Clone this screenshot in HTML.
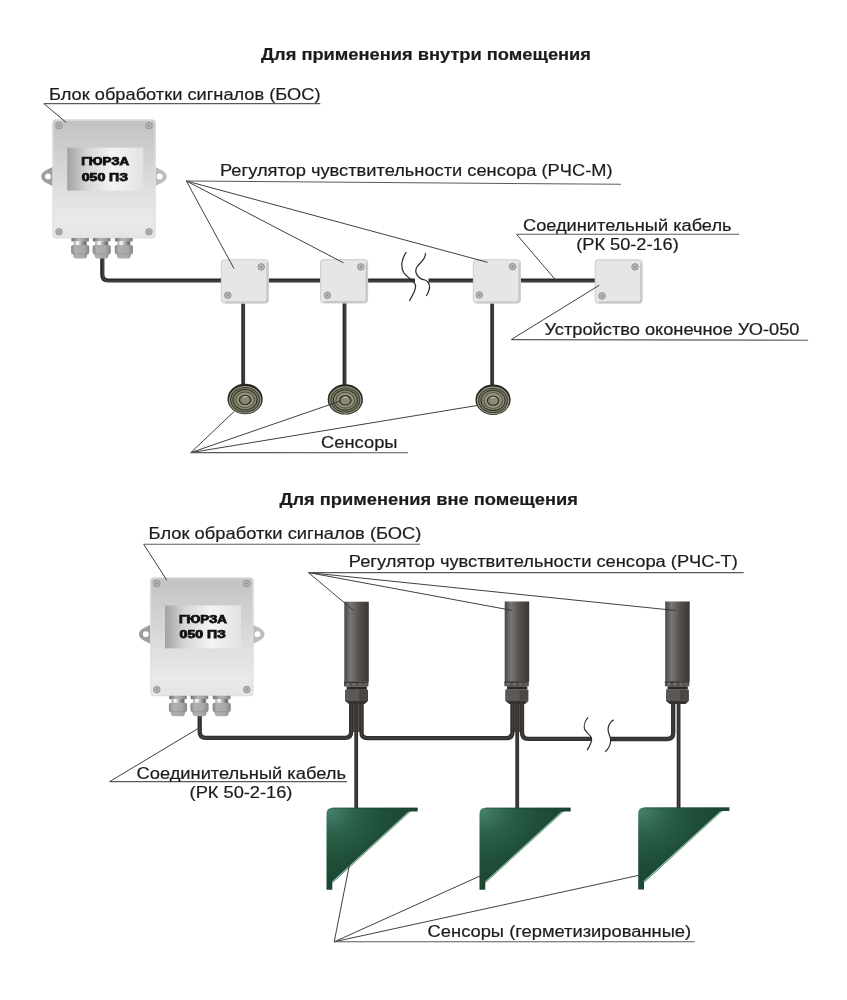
<!DOCTYPE html>
<html><head><meta charset="utf-8">
<style>
html,body{margin:0;padding:0;background:#fff;}
svg{display:block;will-change:transform;}
text{font-family:"Liberation Sans",sans-serif;fill:#1c1c1c;stroke:#1c1c1c;stroke-width:0.2;}
.b{font-weight:bold;}
</style></head><body>
<svg width="847" height="1000" viewBox="0 0 847 1000">
<defs>
  <linearGradient id="boxg" x1="0" y1="0" x2="0" y2="1">
    <stop offset="0" stop-color="#c2c3c1"/>
    <stop offset="0.5" stop-color="#d9dad9"/>
    <stop offset="0.85" stop-color="#eaeaea"/>
    <stop offset="1" stop-color="#e4e4e4"/>
  </linearGradient>
  <linearGradient id="panelg" x1="0" y1="0" x2="1" y2="0">
    <stop offset="0" stop-color="#a2a2a2"/>
    <stop offset="0.25" stop-color="#d4d4d4"/>
    <stop offset="0.6" stop-color="#f4f4f4"/>
    <stop offset="1" stop-color="#e2e2e2"/>
  </linearGradient>
  <linearGradient id="glandg" x1="0" y1="0" x2="1" y2="0">
    <stop offset="0" stop-color="#858585"/>
    <stop offset="0.22" stop-color="#b0b0b0"/>
    <stop offset="0.7" stop-color="#a9a9a9"/>
    <stop offset="1" stop-color="#868686"/>
  </linearGradient>
  <linearGradient id="flangeg" x1="0" y1="0" x2="1" y2="0">
    <stop offset="0" stop-color="#6e6e6e"/>
    <stop offset="0.4" stop-color="#b4b4b4"/>
    <stop offset="0.7" stop-color="#a4a4a4"/>
    <stop offset="1" stop-color="#7a7a7a"/>
  </linearGradient>
  <linearGradient id="neckg" x1="0" y1="0" x2="1" y2="0">
    <stop offset="0" stop-color="#a0a0a0"/>
    <stop offset="0.28" stop-color="#ffffff"/>
    <stop offset="0.55" stop-color="#b4b4b4"/>
    <stop offset="0.85" stop-color="#6e6e6e"/>
    <stop offset="1" stop-color="#8a8a8a"/>
  </linearGradient>
  <linearGradient id="cylg" x1="0" y1="0" x2="1" y2="0">
    <stop offset="0" stop-color="#4a4644"/>
    <stop offset="0.25" stop-color="#7a7774"/>
    <stop offset="0.6" stop-color="#55514e"/>
    <stop offset="1" stop-color="#3a3634"/>
  </linearGradient>
  <radialGradient id="greeng" cx="0.04" cy="0.04" r="0.85" fx="0.04" fy="0.04">
    <stop offset="0" stop-color="#43806a"/>
    <stop offset="0.35" stop-color="#2b5f48"/>
    <stop offset="0.7" stop-color="#1f4f39"/>
    <stop offset="1" stop-color="#1b4733"/>
  </radialGradient>
  <g id="screw">
    <circle r="3.3" fill="#b4b4b4" stroke="#8c8c8c" stroke-width="0.8"/>
    <circle r="1" fill="#8c8c8c"/>
  </g>
  <g id="gland">
    <rect x="0.2" y="-0.4" width="17.7" height="3.4" rx="1" fill="url(#flangeg)"/>
    <rect x="2.7" y="2.8" width="13" height="4" fill="url(#neckg)"/>
    <path d="M0 8.3 Q0 6.5 2 6.5 H16.2 Q18.2 6.5 18.2 8.3 V13.5 Q18.2 15.4 16 15.8 V17 Q16 20.1 12.5 20.1 H5.6 Q2.1 20.1 2.1 17 V15.8 Q0 15.4 0 13.5 Z" fill="url(#glandg)"/>
    <path d="M0.5 15.5 H17.7" stroke="#8c8c8c" stroke-width="0.6"/>
  </g>
  <g id="bos">
    <!-- ears -->
    <path d="M0.5 47.4 C-4.5 49.5 -11.2 52 -11.2 56.8 C-11.2 61.5 -4.5 64 0.5 66.4 Z" fill="#9e9e9e"/>
    <circle cx="-4.4" cy="56.8" r="2.9" fill="#fff"/>
    <path d="M102.8 47.3 C107.5 49.5 114.4 52 114.4 56.8 C114.4 61.5 107.5 64 102.8 66.5 Z" fill="#bdbdbd"/>
    <circle cx="107.3" cy="56.8" r="2.9" fill="#fff"/>
    <rect x="0" y="0" width="103.3" height="118.8" rx="3.5" fill="url(#boxg)"/>
    <rect x="0.7" y="0.7" width="101.9" height="117.4" rx="3" fill="none" stroke="#dedede" stroke-width="1.2" opacity="0.7"/>
    <rect x="14.8" y="28.1" width="76" height="42.9" fill="url(#panelg)"/>
    <use href="#screw" x="6.6" y="6.1"/>
    <use href="#screw" x="96.6" y="6.1"/>
    <use href="#screw" x="6.6" y="112.2"/>
    <use href="#screw" x="96.6" y="112.2"/>
    <text class="b" x="28.8" y="45.8" font-size="10" textLength="48" lengthAdjust="spacingAndGlyphs" style="stroke:#111;stroke-width:0.75;fill:#111">ГЮРЗА</text>
    <text class="b" x="29.4" y="61.1" font-size="10" textLength="46.2" lengthAdjust="spacingAndGlyphs" style="stroke:#111;stroke-width:0.75;fill:#111">050 ПЗ</text>
    <use href="#gland" x="18.7" y="118.8"/>
    <use href="#gland" x="40.2" y="118.8"/>
    <use href="#gland" x="62.4" y="118.8"/>
  </g>
  <g id="jbox">
    <rect x="0.5" y="0.5" width="47" height="43.3" rx="3.5" fill="#e7e5e5" stroke="#d2d0d0" stroke-width="1.1"/>
    <path d="M46.2 3.5 V40.3 Q46.2 42.7 43.8 42.7 H4" stroke="#c0bcbc" stroke-width="1.2" fill="none"/>
  </g>
  <g id="disc">
    <ellipse rx="17.6" ry="15.2" fill="#25251e"/>
    <ellipse cy="0.7" rx="16.2" ry="13.8" fill="#9c9c84"/>
    <ellipse cy="0.7" rx="15" ry="12.7" fill="#3c3c32"/>
    <ellipse cy="0.7" rx="13.9" ry="11.7" fill="#7e7e68"/>
    <ellipse cy="0.7" rx="12.6" ry="10.6" fill="#34342b"/>
    <ellipse cy="0.7" rx="11.4" ry="9.6" fill="#8a8a72"/>
    <ellipse cy="0.8" rx="9.8" ry="8.2" fill="#4a4a3e"/>
    <ellipse cy="0.8" rx="8.8" ry="7.4" fill="#94947c"/>
    <ellipse cy="0.9" rx="6.3" ry="5.2" fill="#2c2c24"/>
    <ellipse cy="1" rx="5" ry="4" fill="#8a8a74"/>
    <ellipse cy="-2.2" rx="2.6" ry="0.7" fill="#c4c4ae"/>
  </g>
  <g id="cyl">
    <rect x="0" y="0" width="24.5" height="80" fill="url(#cylg)"/>
    <rect x="-0.3" y="79.9" width="24.4" height="4.9" fill="#575351"/>
    <rect x="-0.3" y="79.9" width="24.4" height="1.1" fill="#2c2826"/>
    <rect x="2.5" y="81.2" width="2.4" height="2.8" fill="#7a7674"/>
    <rect x="8.5" y="81.2" width="2.4" height="2.8" fill="#767270"/>
    <rect x="14.5" y="81.2" width="2.4" height="2.8" fill="#6e6a68"/>
    <rect x="20" y="81.2" width="2.2" height="2.8" fill="#646060"/>
    <rect x="2.3" y="84.8" width="20.3" height="3.3" fill="#2c2826"/>
    <rect x="0.8" y="88.1" width="22.9" height="11.3" fill="#4a4644"/>
    <rect x="0.8" y="88.1" width="14" height="11.3" fill="#5c5856"/>
    <path d="M0.8 99.4 H23.7 L20.3 102.4 H4.6 Z" fill="#363230"/>
  </g>
  <g id="green">
    <path d="M0 6 Q0 0 6 0 H91.2 V3.7 H84.1 L6.2 75 H5.8 V82.1 H0 Z" fill="url(#greeng)"/>
    <path d="M6 0.4 H91.2" stroke="#17382a" stroke-width="0.8" fill="none" opacity="0.6"/>
    <path d="M82.8 4.1 L5.7 74.4" stroke="#98c4ae" stroke-width="1.2" fill="none"/>
  </g>
</defs>

<!-- ===== TITLES ===== -->
<text class="b" x="261" y="59.8" font-size="16.3" textLength="330" lengthAdjust="spacingAndGlyphs">Для применения внутри помещения</text>
<text class="b" x="279.4" y="504.7" font-size="16.3" textLength="298.5" lengthAdjust="spacingAndGlyphs">Для применения вне помещения</text>

<!-- ===== SECTION 1 ===== -->
<g stroke="#2c2926" stroke-width="4.2" fill="none">
  <path d="M102.3 256 V274.5 Q102.3 280.5 108.3 280.5 H415"/>
  <path d="M428.5 280.5 H600"/>
</g>
<g stroke="#2c2926" stroke-width="3.8" fill="none">
  <path d="M243.2 300 V386"/>
  <path d="M344.5 300 V386" />
  <path d="M492.2 300 V386"/>
</g>
<g stroke="#48433f" stroke-width="1.6" fill="none">
  <path d="M103.1 259 V274.5 Q103.1 281.3 109 281.3 H414.5"/>
  <path d="M429.5 281.3 H600"/>
  <path d="M244 302 V385"/>
  <path d="M345.3 302 V385"/>
  <path d="M493 302 V385"/>
</g>

<use href="#bos" x="52.4" y="119.6"/>
<use href="#jbox" x="220.9" y="259.3"/>
<use href="#jbox" x="320.1" y="259.1"/>
<use href="#jbox" x="472.9" y="259.3"/>
<use href="#jbox" x="594.7" y="259.4"/>
<g>
  <use href="#screw" x="261.2" y="266.9"/><use href="#screw" x="227.8" y="295.3"/>
  <use href="#screw" x="360.8" y="266.9"/><use href="#screw" x="327.4" y="295.3"/>
  <use href="#screw" x="512.6" y="266.6"/><use href="#screw" x="479.3" y="295"/>
  <use href="#screw" x="635" y="266.9"/><use href="#screw" x="602" y="295.9"/>
</g>
<use href="#disc" x="245.1" y="399"/>
<use href="#disc" x="345.3" y="399.4"/>
<use href="#disc" x="493.1" y="399.7"/>

<!-- break 1 -->
<g stroke="#2a2a2a" stroke-width="1.2" fill="none">
  <path d="M406.4 252.2 C401 259 400.5 268 404 273 C407 278 415.5 281 415.6 286 C415.6 292 411 297 409.4 301.1"/>
  <path d="M425.3 253.1 C426.5 258 421 262 417.5 266 C413 272 418 279 425 280 C430 282 429.8 286 429.3 289 C428.5 292 427 295 426.2 296"/>
</g>

<!-- leaders section 1 -->
<g stroke="#363636" stroke-width="0.95" fill="none">
  <path d="M43.8 103.6 L66.3 122.5"/>
  <path d="M186.4 181 L234 268.6 M186.4 181 L343.5 262.8 M186.4 181 L487.5 262.3"/>
  <path d="M516.6 234.3 L555.1 279.4"/>
  <path d="M511.2 339.6 L599.3 285.2"/>
  <path d="M190.8 452.6 L234 411.6 M190.8 452.6 L341 400.8 M190.8 452.6 L477 405.5"/>
</g>
<g stroke="#5a5a5a" stroke-width="1.1" fill="none">
  <path d="M43.8 103.6 H320.3"/>
  <path d="M186.4 181 L620.9 184.3"/>
  <path d="M516.6 234.3 H739.2"/>
  <path d="M511.2 339.6 L808.1 340.2"/>
  <path d="M190.8 452.6 L408 452.8"/>
</g>

<text x="49" y="100.2" font-size="16.4" textLength="271.5" lengthAdjust="spacingAndGlyphs">Блок обработки сигналов (БОС)</text>
<text x="220" y="175.8" font-size="16" textLength="392.5" lengthAdjust="spacingAndGlyphs">Регулятор чувствительности сенсора (РЧС-М)</text>
<text x="523" y="230.7" font-size="16" textLength="208.5" lengthAdjust="spacingAndGlyphs">Соединительный кабель</text>
<text x="576.2" y="250.2" font-size="16" textLength="102.6" lengthAdjust="spacingAndGlyphs">(РК 50-2-16)</text>
<text x="544.5" y="334.7" font-size="16" textLength="255" lengthAdjust="spacingAndGlyphs">Устройство оконечное УО-050</text>
<text x="321" y="448.4" font-size="16" textLength="76.5" lengthAdjust="spacingAndGlyphs">Сенсоры</text>

<!-- ===== SECTION 2 ===== -->
<g fill="#5c5856">
  <rect x="349.5" y="701" width="14" height="31"/>
  <rect x="510.8" y="701" width="13.2" height="31"/>
</g>
<g stroke="#332f2d" stroke-width="4.3" fill="none" stroke-linecap="butt">
  <path d="M199.7 713 V731.7 Q199.7 737.9 205.9 737.9 H345 Q351.2 737.9 351.2 731.7 V701"/>
  <path d="M361.4 701 V732 Q361.4 738.2 367.6 738.2 H506.3 Q512.5 738.2 512.5 732 V701"/>
  <path d="M522 701 V732.5 Q522 738.8 528.2 738.8 H591.5"/>
  <path d="M610.2 739 H667 Q673.2 739 673.2 733 V701"/>
</g>
<g stroke="#332f2d" stroke-width="3.8" fill="none">
  <path d="M356.2 701 V809"/>
  <path d="M517.2 701 V809"/>
  <path d="M678.6 701 V809"/>
</g>
<g stroke="#4a4643" stroke-width="1.2" fill="none" opacity="0.8">
  <path d="M199.7 716 V731.7 Q199.7 737.9 205.9 737.9 H345 Q351.2 737.9 351.2 731.7 V704"/>
  <path d="M361.4 704 V732 Q361.4 738.2 367.6 738.2 H506.3 Q512.5 738.2 512.5 732 V704"/>
  <path d="M522 704 V732.5 Q522 738.8 528.2 738.8 H590.5"/>
  <path d="M611.2 739 H667 Q673.2 739 673.2 733 V704"/>
  <path d="M356.2 704 V808"/>
  <path d="M517.2 704 V808"/>
  <path d="M678.6 704 V808"/>
</g>

<use href="#bos" x="150.2" y="577.4"/>
<use href="#cyl" x="344.3" y="601.7"/>
<use href="#cyl" x="504.7" y="601.5"/>
<use href="#cyl" x="665.2" y="601.5"/>
<use href="#green" x="326.5" y="807.7"/>
<use href="#green" x="479.5" y="807.7"/>
<use href="#green" x="638.2" y="807.4"/>

<!-- break 2 -->
<g stroke="#2a2a2a" stroke-width="1.2" fill="none">
  <path d="M588.1 717.4 C585 721 583.5 726 584.5 729 C586 733 591.5 735 591.6 739.5 C591.6 743 589 747 587 750.3"/>
  <path d="M613.6 719.9 C609.5 722 607.5 727 608.2 731 C608.8 735 611 737 610.7 741 C610.3 745 608 749.5 605.1 751.7"/>
</g>

<!-- leaders section 2 -->
<g stroke="#363636" stroke-width="0.95" fill="none">
  <path d="M143.7 544.3 L166.8 580.2"/>
  <path d="M308.5 572.6 L353.7 610.5 M308.5 572.6 L511.6 610.3 M308.5 572.6 L675.6 610.5"/>
  <path d="M109.6 781.6 L197.8 728.7"/>
  <path d="M334.2 941.8 L350.5 859.3 M334.2 941.8 L486.9 872.9 M334.2 941.8 L638 875.5"/>
</g>
<g stroke="#5a5a5a" stroke-width="1.1" fill="none">
  <path d="M143.7 544.3 H420"/>
  <path d="M308.5 572.6 H743.7"/>
  <path d="M109.6 781.6 H347.1"/>
  <path d="M334.2 941.8 H694.6"/>
</g>

<text x="148.6" y="538.6" font-size="16.4" textLength="272.8" lengthAdjust="spacingAndGlyphs">Блок обработки сигналов (БОС)</text>
<text x="348.8" y="566.5" font-size="16" textLength="389" lengthAdjust="spacingAndGlyphs">Регулятор чувствительности сенсора (РЧС-Т)</text>
<text x="136.5" y="779.3" font-size="16" textLength="209.5" lengthAdjust="spacingAndGlyphs">Соединительный кабель</text>
<text x="189.6" y="797.8" font-size="16" textLength="102.8" lengthAdjust="spacingAndGlyphs">(РК 50-2-16)</text>
<text x="427.6" y="937.4" font-size="16" textLength="263.5" lengthAdjust="spacingAndGlyphs">Сенсоры (герметизированные)</text>
</svg>
</body></html>
